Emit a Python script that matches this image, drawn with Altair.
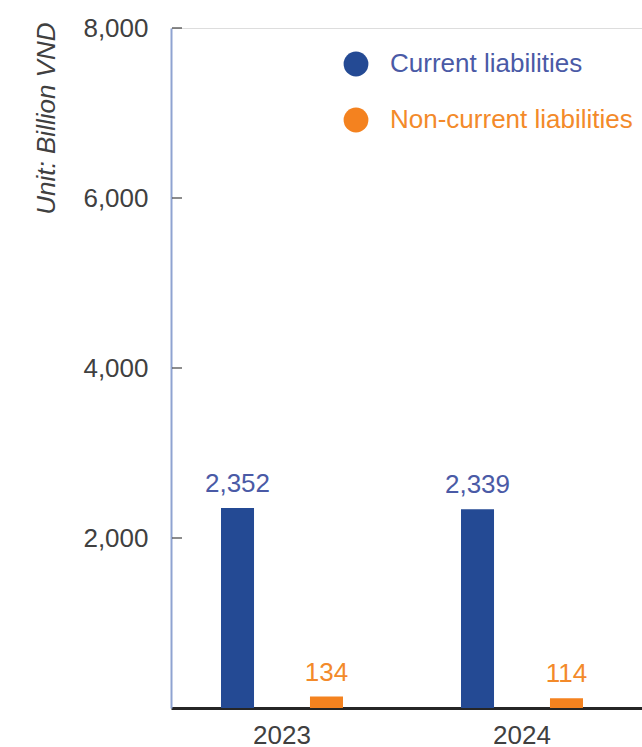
import altair as alt
import pandas as pd

years = ["2023", "2024"]
series = ["Current liabilities", "Non-current liabilities"]
current = [2352, 2339]
non_current = [134, 114]
y_tick_values = [2000, 4000, 6000, 8000]

bar_colors = {"Current liabilities": "#244a94", "Non-current liabilities": "#f4821f"}
label_colors = {"Current liabilities": "#4a5aa6", "Non-current liabilities": "#f38a2a"}

FONT = "Liberation Sans"
GREY = "#404040"

rows = []
for i, yr in enumerate(years):
    for s, vals in zip(series, [current, non_current]):
        rows.append({"year": yr, "series": s, "value": vals[i],
                     "bcolor": bar_colors[s], "lcolor": label_colors[s]})
df = pd.DataFrame(rows)
legend_df = pd.DataFrame({"series": series,
                          "bcolor": [bar_colors[s] for s in series],
                          "lcolor": [label_colors[s] for s in series]})
ticks_df = pd.DataFrame({"value": y_tick_values})

x_enc = alt.X("year:N",
              scale=alt.Scale(paddingInner=0.075, paddingOuter=0.01875, align=0),
              axis=alt.Axis(title=None, labelAngle=0, labelFontSize=26, labelColor=GREY,
                            labelFont=FONT, tickSize=0, domainColor="#262626",
                            domainWidth=3, labelPadding=14))
xoff = alt.XOffset("series:N", scale=alt.Scale(domain=series, paddingInner=0.629,
                                               paddingOuter=0.562))
y_enc = alt.Y("value:Q", scale=alt.Scale(domain=[0, 8000]),
              axis=alt.Axis(values=y_tick_values, labelExpr="format(datum.value, ',.0f')",
                            tickSize=0, labelPadding=23,
                            labelFontSize=26, labelColor=GREY, labelFont=FONT,
                            domainColor="#8fa3d1", domainWidth=2, grid=False,
                            title="Unit: Billion VND", titleFont=FONT, titleFontSize=26,
                            titleFontStyle="italic", titleFontWeight="normal",
                            titleColor=GREY, titleAngle=270, titleAlign="right",
                            titleBaseline="middle", titleX=-125, titleY=-6))

bars = alt.Chart(df).mark_bar().encode(
    x=x_enc, xOffset=xoff, y=y_enc,
    color=alt.Color("bcolor:N", scale=None),
)

labels = alt.Chart(df).mark_text(baseline="bottom", dy=-11, fontSize=26, font=FONT).encode(
    x=x_enc, xOffset=xoff, y=alt.Y("value:Q"),
    text=alt.Text("value:Q", format=","),
    color=alt.Color("lcolor:N", scale=None),
)

ticks = alt.Chart(ticks_df).mark_rule(color="#404040", strokeWidth=1.2).encode(
    y=alt.Y("value:Q"), x=alt.value(1), x2=alt.value(11),
)

main = alt.layer(bars, labels, ticks)

ly = alt.Y("series:N", scale=alt.Scale(domain=series, range=[36, 92], padding=0), axis=None)
leg_pts = alt.Chart(legend_df).mark_circle(size=615, opacity=1).encode(
    x=alt.value(185), y=ly, color=alt.Color("bcolor:N", scale=None),
)
leg_txt = alt.Chart(legend_df).mark_text(align="left", baseline="middle", fontSize=26,
                                          font=FONT).encode(
    x=alt.value(219), y=ly, text="series:N", color=alt.Color("lcolor:N", scale=None),
)
legend = alt.layer(leg_pts, leg_txt)

chart = alt.layer(main, legend).resolve_scale(y="independent").properties(
    width=471, height=680,
    autosize=alt.AutoSizeParams(type="none"),
    padding={"left": 171, "top": 28, "right": 0, "bottom": 39},
).configure_view(stroke=None).configure(background="white")

chart.save("out.html", embed_options={"renderer": "svg", "actions": False})
